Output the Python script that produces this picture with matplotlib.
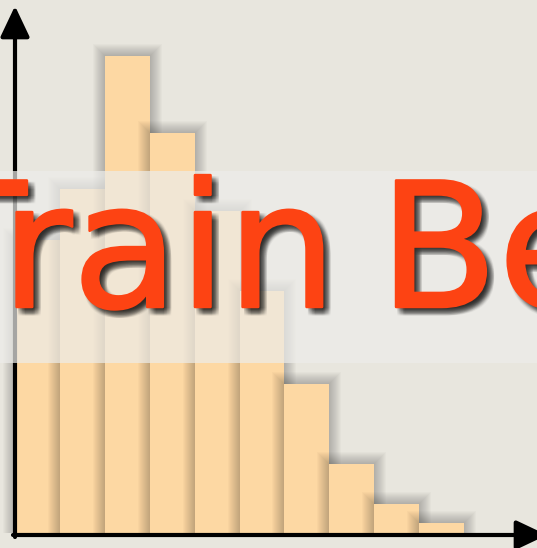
import matplotlib
matplotlib.use('Agg')
import matplotlib.pyplot as plt
import matplotlib.patheffects as pe
from matplotlib.patches import Rectangle
import numpy as np

# histogram counts (tallest bar = 100)
counts = [61.4, 72.1, 100.0, 83.9, 67.5, 50.7, 31.2, 14.5, 6.1, 2.1]
bin_edges = np.arange(len(counts))
title = 'Train Be'

bg_color = '#E8E6DE'
bar_color = '#FDD8A3'
text_color = '#FD4313'
band_color = '#EDEDEA'

W, H = 537, 548
x0_px, ux = 15, 44.9      # pixel of x=0, pixels per bin
base_py, uy = 533, 4.77   # pixel row of y=0, pixels per count


def px2x(px):
    return (px - x0_px) / ux


def py2y(py):
    return (base_py - py) / uy


fig = plt.figure(figsize=(W / 100, H / 100), dpi=100, facecolor=bg_color)
ax = fig.add_axes([0, 0, 1, 1])
ax.set_facecolor(bg_color)
ax.set_xlim(px2x(0), px2x(W))
ax.set_ylim(py2y(H), py2y(0))
ax.axis('off')

# bars, each with a soft shadow that falls on the one to its left
for i, (x, c) in enumerate(zip(bin_edges, counts)):
    for d in range(1, 13):
        ax.add_patch(Rectangle((x - d / ux, 0), 1 + 2 * d / ux, c + d / uy,
                               facecolor='black', alpha=0.02, lw=0, zorder=2 + 2 * i))
    ax.bar(x, c, width=1, align='edge', color=bar_color, lw=0, zorder=3 + 2 * i)

# axes with arrow heads
arrow = dict(arrowstyle='-|>,head_length=0.95,head_width=0.45', mutation_scale=20,
             lw=3, color='black', shrinkA=0, shrinkB=0)
ax.annotate('', xy=(px2x(15), py2y(6)), xytext=(px2x(15), py2y(537)),
            arrowprops=arrow, annotation_clip=False, zorder=28)
ax.annotate('', xy=(px2x(547), py2y(535)), xytext=(px2x(13), py2y(535)),
            arrowprops=arrow, annotation_clip=False, zorder=28)

# translucent band behind the title
ax.axhspan(py2y(363), py2y(171), color=band_color, alpha=0.7, lw=0, zorder=30)

# soft drop shadow, then a thin stroke to make the letters a bit heavier
shadow = [pe.SimplePatchShadow(offset=(dx, -dy), shadow_rgbFace='black', alpha=0.04)
          for dx in (1, 2, 3, 4, 5, 6) for dy in (1, 2, 3, 4, 5, 6)]
effects = shadow + [pe.Stroke(linewidth=1.8, foreground=text_color), pe.Normal()]
words = title.split()
style = dict(fontsize=125, family='DejaVu Sans', color=text_color,
             va='baseline', zorder=40, path_effects=effects)
ax.text(px2x(337), py2y(307), words[0], ha='right', **style)
ax.text(px2x(379), py2y(307), words[1], ha='left', **style)

fig.savefig('out.png', dpi=100, facecolor=bg_color)
